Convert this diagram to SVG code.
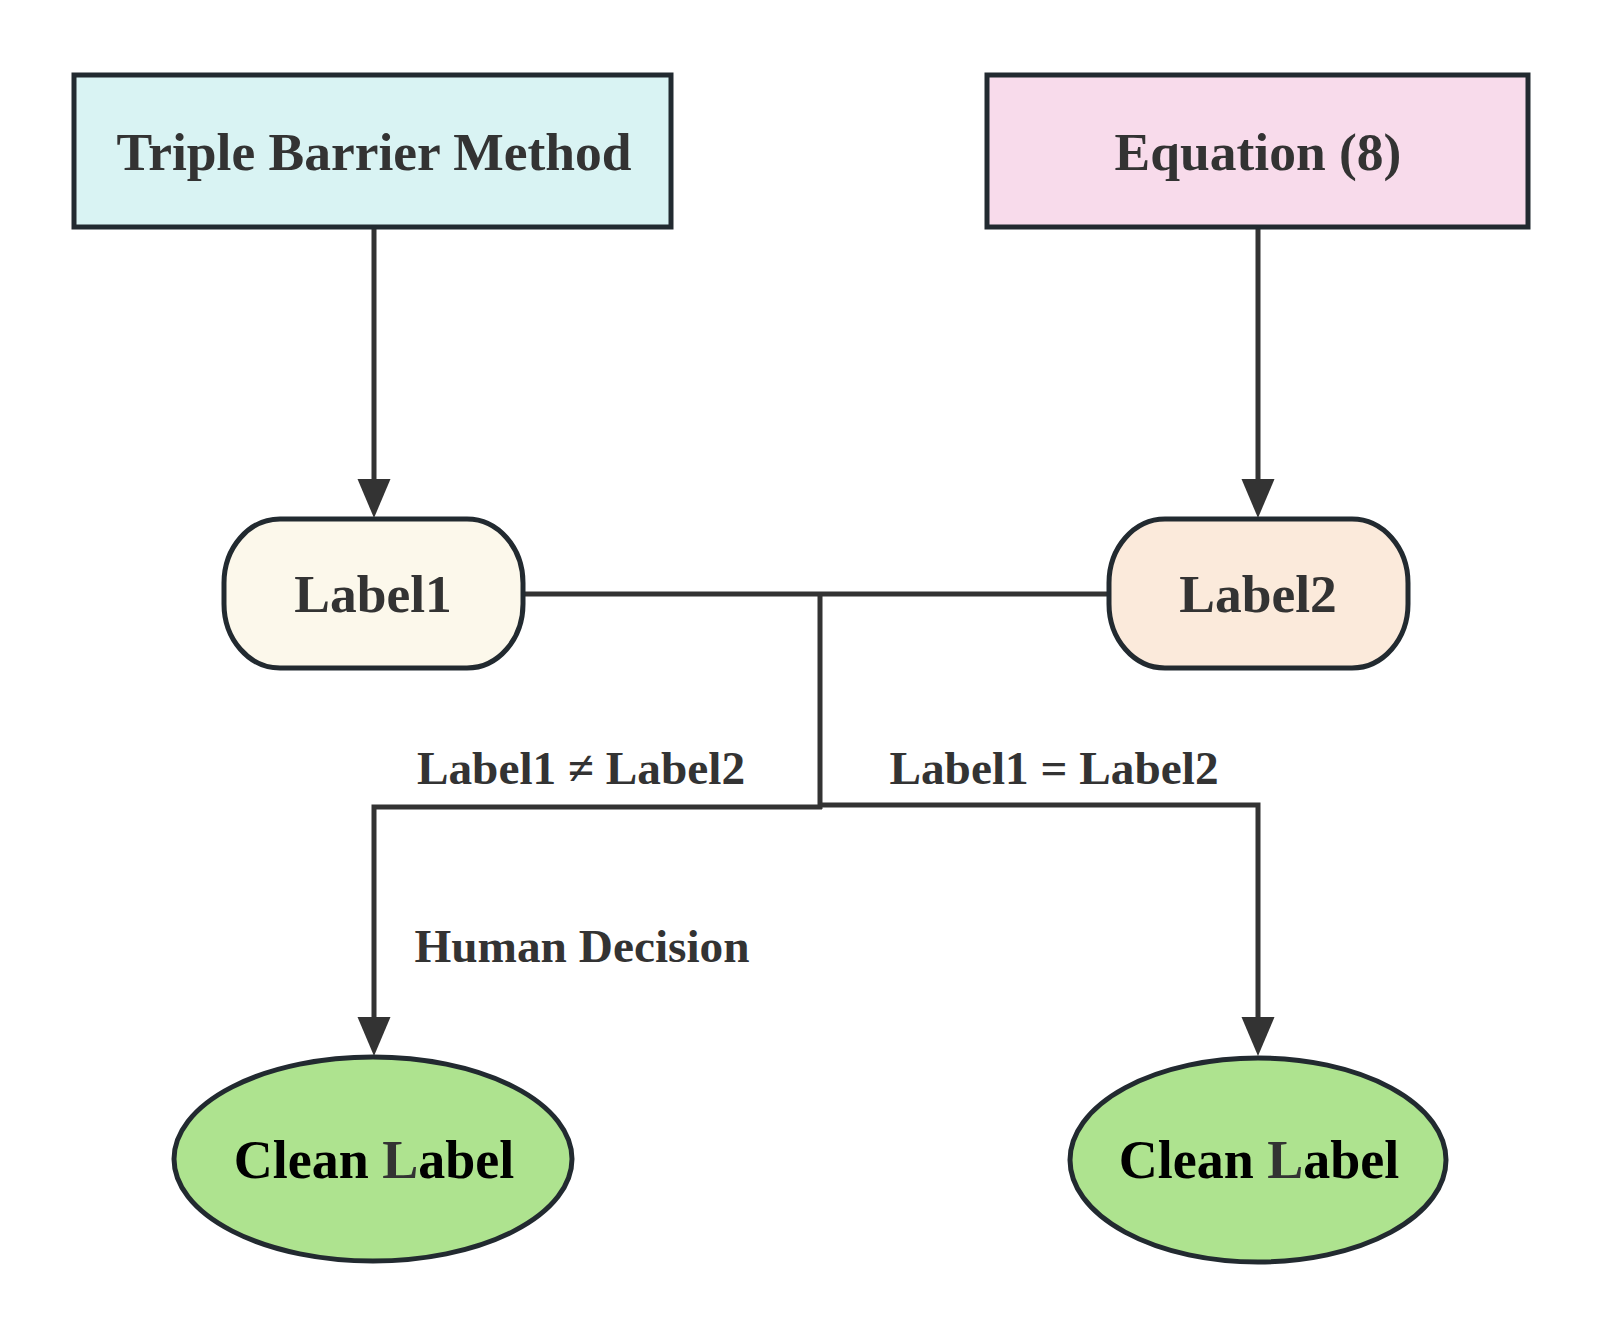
<svg xmlns="http://www.w3.org/2000/svg" width="1603" height="1338" viewBox="0 0 1603 1338">
<style>
.node{stroke:#222a30;stroke-width:5}
.t{font-family:"Liberation Serif","Times New Roman",serif;font-weight:bold;fill:#333;text-anchor:middle}
.nt{font-size:53.5px}
.et{font-size:47.3px}
.conn{fill:none;stroke:#333;stroke-width:5}
</style>
<defs>
<marker id="arr" markerUnits="userSpaceOnUse" markerWidth="40" markerHeight="34" refX="0" refY="16.5" orient="auto">
<path d="M0,0 L39,16.5 L0,33 z" fill="#333"/>
</marker>
</defs>
<rect width="1603" height="1338" fill="#fff"/>
<g id="connectors">
<path class="conn" d="M374 229 V479" marker-end="url(#arr)"/>
<path class="conn" d="M1258 229 V479" marker-end="url(#arr)"/>
<path class="conn" d="M523 594 H1109"/>
<path class="conn" d="M820 594 V809"/>
<path class="conn" d="M822 807 H374 V1017" marker-end="url(#arr)"/>
<path class="conn" d="M820 805 H1258 V1017" marker-end="url(#arr)"/>
<text class="t et" x="581" y="784">Label1 ≠ Label2</text>
<text class="t et" x="1054" y="784">Label1 = Label2</text>
<text class="t et" x="582" y="962">Human Decision</text>
</g>
<g id="triple">
<rect class="node" x="74" y="75" width="597" height="152" fill="#d9f3f3"/>
<text class="t nt" x="374" y="170">Triple Barrier Method</text>
</g>
<g id="equation">
<rect class="node" x="987" y="75" width="541" height="152" fill="#f8dbeb"/>
<text class="t nt" x="1258" y="170">Equation (8)</text>
</g>
<g id="label1">
<rect class="node" x="224" y="519" width="299" height="149" rx="56" ry="64" fill="#fcf8eb"/>
<text class="t nt" x="373" y="612">Label1</text>
</g>
<g id="label2">
<rect class="node" x="1109" y="519" width="299" height="149" rx="56" ry="64" fill="#fbeadb"/>
<text class="t nt" x="1258" y="612">Label2</text>
</g>
<g id="clean1">
<ellipse class="node" cx="373" cy="1159" rx="199" ry="102" fill="#aee38f"/>
<text class="t" style="font-size:54px;fill:#000" x="374" y="1178">Clean <tspan fill="#333">L</tspan>abel</text>
</g>
<g id="clean2">
<ellipse class="node" cx="1258" cy="1160" rx="188" ry="102" fill="#aee38f"/>
<text class="t" style="font-size:54px;fill:#000" x="1259" y="1178">Clean <tspan fill="#333">L</tspan>abel</text>
</g>
</svg>
